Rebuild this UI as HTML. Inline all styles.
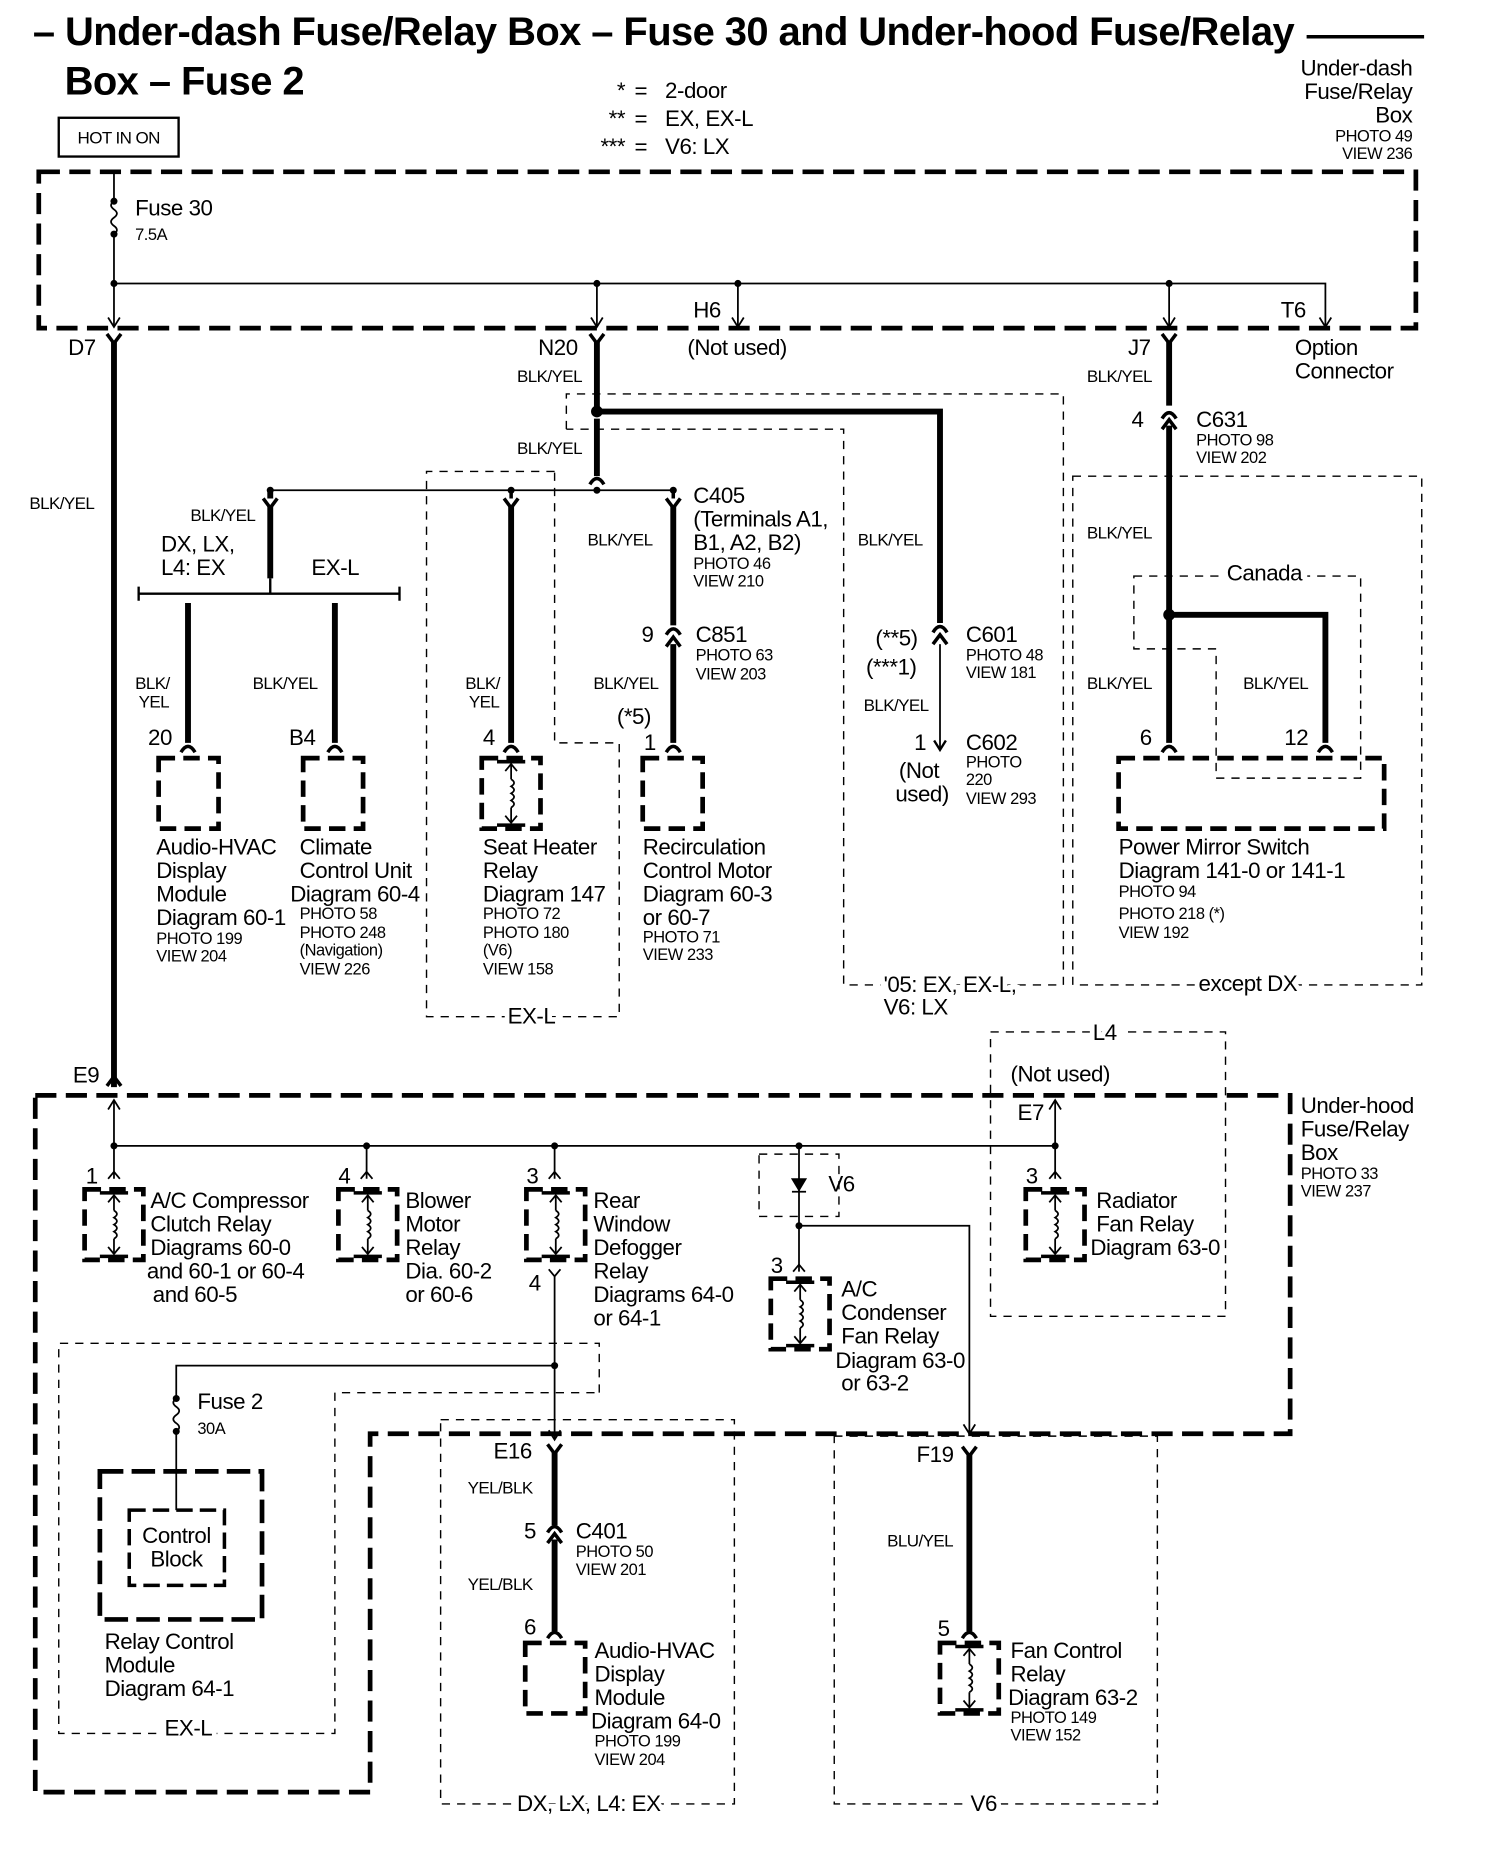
<!DOCTYPE html>
<html><head><meta charset="utf-8"><style>
html,body{margin:0;padding:0;background:#fff}
svg{display:block}
text{font-family:"Liberation Sans",sans-serif;fill:#000}
.t{font-size:19px;letter-spacing:-0.4px}
.s{font-size:14px;letter-spacing:-0.4px}
.m{font-size:14.5px;letter-spacing:-0.5px}
.h{font-size:34px;font-weight:bold;letter-spacing:-0.5px}
.r{text-anchor:end}
.bg{stroke:#fff;stroke-width:8px;paint-order:stroke}
</style></head><body>
<svg width="1504" height="1850" viewBox="0 0 1280 1574" xmlns="http://www.w3.org/2000/svg">
<defs>
<g id="relay" fill="none" stroke="#000">
 <rect x="0" y="0" width="50" height="60" stroke-width="4" stroke-dasharray="14,7"/>
 <line x1="13" y1="3" x2="37" y2="3" stroke-width="3"/>
 <line x1="13" y1="57" x2="37" y2="57" stroke-width="3"/>
 <line x1="25" y1="5" x2="25" y2="18" stroke-width="1.5"/>
 <line x1="25" y1="42" x2="25" y2="55" stroke-width="1.5"/>
 <path d="M25 18 q5 3 0 6 q5 3 0 6 q5 3 0 6 q5 3 0 6" stroke-width="1.5"/>
 <path d="M20 11 L25 5 L30 11 M20 49 L25 55 L30 49" stroke-width="1.5"/>
</g>
<g id="box"><rect x="0" y="0" width="51" height="60" fill="none" stroke="#000" stroke-width="4" stroke-dasharray="14,7"/></g>
</defs>

<!-- Title -->
<text class="h" x="28" y="38">– Under-dash Fuse/Relay Box – Fuse 30 and Under-hood Fuse/Relay</text>
<line x1="1112" y1="31" x2="1212" y2="31" stroke="#000" stroke-width="3"/>
<text class="h" x="55" y="80">Box – Fuse 2</text>
<text class="t r" x="532" y="83">*</text><text class="t" x="540" y="83">=</text><text class="t" x="566" y="83">2-door</text>
<text class="t r" x="532" y="107">**</text><text class="t" x="540" y="107">=</text><text class="t" x="566" y="107">EX, EX-L</text>
<text class="t r" x="532" y="131">***</text><text class="t" x="540" y="131">=</text><text class="t" x="566" y="131">V6: LX</text>
<rect x="50" y="100" width="102" height="33" fill="none" stroke="#000" stroke-width="2"/>
<text class="m" x="66" y="122">HOT IN ON</text>
<text class="t r" x="1202" y="64">Under-dash</text>
<text class="t r" x="1202" y="84">Fuse/Relay</text>
<text class="t r" x="1202" y="104">Box</text>
<text class="s r" x="1202" y="120">PHOTO 49</text>
<text class="s r" x="1202" y="135">VIEW 236</text>

<g fill="none" stroke="#000">
<rect x="33" y="146" width="1172" height="133" stroke-width="4" stroke-dasharray="18,8"/>
<path d="M97 146 V171 M97 199 V278" stroke-width="1.5"/>
<path d="M97 171 q-5 3.5 0 7 q5 3.5 0 7 q-5 3.5 0 7 q5 3.5 0 7" stroke-width="1.5"/>
<path d="M97 241 H1128 V278 M508 241 V278 M628 241 V278 M995 241 V278" stroke-width="1.5"/>
<path d="M92 270 L97 278 L102 270 M503 270 L508 278 L513 270 M623 270 L628 278 L633 270 M990 270 L995 278 L1000 270 M1123 270 L1128 278 L1133 270" stroke-width="1.5"/>
<path d="M91 284 L97 292 L103 284 M502 284 L508 292 L514 284 M989 284 L995 292 L1001 284" stroke-width="3"/>
<path d="M97 290 V925" stroke-width="5"/>
<path d="M91 924 L97 916 L103 924" stroke-width="3"/>
<path d="M508 290 V350 M508 356 V405" stroke-width="5"/>
<path d="M502 412 Q508 402 514 412" stroke-width="3"/>
<path d="M508 350 H800 V530" stroke-width="5"/>
<path d="M794 538 Q800 528 806 538 M794 548 L800 540 L806 548" stroke-width="3"/>
<path d="M800 548 V638" stroke-width="1.5"/>
<path d="M795 630 L800 638 L805 630" stroke-width="2"/>
<path d="M482 365 V335 H905 V838 H718 V365 H482" stroke-width="1.2" stroke-dasharray="7,6"/>
<path d="M230 417 H573" stroke-width="1.5"/>
<path d="M224 424 L230 432 L236 424" stroke-width="3"/>
<path d="M230 417 V424 M230 430 V492" stroke-width="5"/>
<path d="M118 505 H340 M118 499 V511 M340 499 V511 M230 492 V505" stroke-width="2"/>
<path d="M160 513 V632 M285 513 V632" stroke-width="5"/>
<path d="M154 640 Q160 630 166 640 M279 640 Q285 630 291 640" stroke-width="3"/>
<path d="M429 424 L435 432 L441 424 M435 417 V424" stroke-width="3"/>
<path d="M435 430 V632" stroke-width="5"/>
<path d="M429 640 Q435 630 441 640" stroke-width="3"/>
<path d="M472 401 H363 V865 H527 V632 H472 V401" stroke-width="1.2" stroke-dasharray="7,6"/>
<path d="M567 424 L573 432 L579 424 M573 417 V424" stroke-width="3"/>
<path d="M573 430 V532 M573 548 V632" stroke-width="5"/>
<path d="M567 540 Q573 530 579 540 M567 550 L573 542 L579 550" stroke-width="3"/>
<path d="M567 640 Q573 630 579 640" stroke-width="3"/>
<path d="M995 290 V345 M995 362 V632" stroke-width="5"/>
<path d="M989 356 Q995 346 1001 356 M989 365 L995 357 L1001 365" stroke-width="3"/>
<path d="M995 523 H1128 V632" stroke-width="5"/>
<path d="M989 640 Q995 630 1001 640 M1122 640 Q1128 630 1134 640" stroke-width="3"/>
<path d="M965 490 H1158 V662 H1035 V552 H965 Z" stroke-width="1.2" stroke-dasharray="7,6"/>
<path d="M913 405 H1210 V838 H913 Z" stroke-width="1.2" stroke-dasharray="7,6"/>
<rect x="952" y="645" width="226" height="60" stroke-width="4" stroke-dasharray="14,7"/>

<path d="M30 932 H1098 V1220 H315 V1525 H30 Z" stroke-width="4" stroke-dasharray="18,8"/>
<path d="M92 944 L97 936 L102 944" stroke-width="1.5"/>
<path d="M97 936 V1003 M97 975 H898 M312 975 V1003 M472 975 V1003 M898 936 V1003 M680 975 V1043 M680 1043 V1082" stroke-width="1.5"/>
<path d="M893 944 L898 936 L903 944 M92 1003 L97 997 L102 1003 M307 1003 L312 997 L317 1003 M467 1003 L472 997 L477 1003 M893 1003 L898 997 L903 1003 M675 1082 L680 1076 L685 1082" stroke-width="1.5"/>
<path d="M674 1003 H686 L680 1013 Z" fill="#000" stroke-width="1"/>
<path d="M674 1014 H686" stroke-width="1.5"/>
<path d="M680 1043 H825 V1220 M820 1212 L825 1220 L830 1212" stroke-width="1.5"/>
<path d="M646 982 H714 V1035 H646 Z" stroke-width="1.2" stroke-dasharray="7,6"/>
<path d="M843 878 H1043 V1120 H843 Z" stroke-width="1.2" stroke-dasharray="7,6"/>
<path d="M467 1080 L472 1086 L477 1080 M472 1086 V1225 M467 1217 L472 1225 L477 1217" stroke-width="1.5"/>
<path d="M472 1162 H150 V1190 M150 1218 V1252" stroke-width="1.5"/>
<path d="M150 1190 q-5 3.5 0 7 q5 3.5 0 7 q-5 3.5 0 7 q5 3.5 0 7" stroke-width="1.5"/>
<path d="M510 1185 V1143 H50 V1475 H285 V1185 H510" stroke-width="1.2" stroke-dasharray="7,6"/>
<rect x="85" y="1252" width="138" height="126" stroke-width="4" stroke-dasharray="20,7"/>
<rect x="110" y="1285" width="81" height="64" stroke-width="3" stroke-dasharray="14,6"/>
<path d="M150 1252 V1285" stroke-width="1.5"/>
<path d="M375 1208 H625 V1535 H375 Z" stroke-width="1.2" stroke-dasharray="7,6"/>
<path d="M466 1229 L472 1237 L478 1229" stroke-width="3"/>
<path d="M472 1235 V1298 M472 1310 V1388" stroke-width="5"/>
<path d="M466 1304 Q472 1294 478 1304 M466 1313 L472 1305 L478 1313 M466 1394 Q472 1384 478 1394" stroke-width="3"/>
<path d="M710 1222 H985 V1535 H710 Z" stroke-width="1.2" stroke-dasharray="7,6"/>
<path d="M819 1231 L825 1239 L831 1231" stroke-width="3"/>
<path d="M825 1237 V1388" stroke-width="5"/>
<path d="M819 1394 Q825 1384 831 1394" stroke-width="3"/>
</g>
<g fill="#000">
<circle cx="97" cy="171" r="3"/><circle cx="97" cy="199" r="3"/>
<circle cx="97" cy="241" r="3"/><circle cx="508" cy="241" r="3"/><circle cx="628" cy="241" r="3"/><circle cx="995" cy="241" r="3"/>
<circle cx="508" cy="350" r="5"/><circle cx="230" cy="417" r="3"/><circle cx="435" cy="417" r="3"/><circle cx="508" cy="417" r="3"/><circle cx="573" cy="417" r="3"/>
<circle cx="995" cy="523" r="5"/>
<circle cx="97" cy="975" r="3"/><circle cx="312" cy="975" r="3"/><circle cx="472" cy="975" r="3"/><circle cx="680" cy="975" r="3"/><circle cx="898" cy="975" r="3"/>
<circle cx="680" cy="1043" r="3"/><circle cx="472" cy="1162" r="3"/>
<circle cx="150" cy="1190" r="3"/><circle cx="150" cy="1218" r="3"/>
</g>
<use href="#box" x="135" y="645"/><use href="#box" x="258" y="645"/>
<use href="#relay" x="410" y="645"/><use href="#box" x="547" y="645"/>
<use href="#relay" x="72" y="1012"/><use href="#relay" x="288" y="1012"/><use href="#relay" x="448" y="1012"/>
<use href="#relay" x="873" y="1012"/><use href="#relay" x="656" y="1088"/>
<use href="#box" x="447" y="1398"/><use href="#relay" x="800" y="1398"/>

<text class="t" x="115" y="183">Fuse 30</text><text class="s" x="115" y="204">7.5A</text>
<text class="t" x="590" y="270">H6</text><text class="t" x="1090" y="270">T6</text>
<text class="t" x="58" y="302">D7</text><text class="t" x="458" y="302">N20</text>
<text class="t" x="585" y="302">(Not used)</text><text class="t" x="960" y="302">J7</text>
<text class="t" x="1102" y="302">Option</text><text class="t" x="1102" y="322">Connector</text>
<text class="m" x="440" y="325">BLK/YEL</text><text class="m" x="440" y="386">BLK/YEL</text>
<text class="m" x="25" y="433">BLK/YEL</text><text class="m" x="925" y="325">BLK/YEL</text>
<text class="m" x="162" y="443">BLK/YEL</text>
<text class="t" x="137" y="469">DX, LX,</text><text class="t" x="137" y="489">L4: EX</text><text class="t" x="265" y="489">EX-L</text>
<text class="m" x="115" y="586">BLK/</text><text class="m" x="118" y="602">YEL</text>
<text class="m" x="215" y="586">BLK/YEL</text>
<text class="t" x="126" y="634">20</text><text class="t" x="246" y="634">B4</text>
<text class="t" x="133" y="727">Audio-HVAC</text><text class="t" x="133" y="747">Display</text><text class="t" x="133" y="767">Module</text><text class="t" x="133" y="787">Diagram 60-1</text>
<text class="s" x="133" y="803">PHOTO 199</text><text class="s" x="133" y="818">VIEW 204</text>
<text class="t" x="255" y="727">Climate</text><text class="t" x="255" y="747">Control Unit</text><text class="t" x="247" y="767">Diagram 60-4</text>
<text class="s" x="255" y="782">PHOTO 58</text><text class="s" x="255" y="798">PHOTO 248</text><text class="s" x="255" y="813">(Navigation)</text><text class="s" x="255" y="829">VIEW 226</text>
<text class="m" x="396" y="586">BLK/</text><text class="m" x="399" y="602">YEL</text><text class="t" x="411" y="634">4</text>
<text class="t" x="411" y="727">Seat Heater</text><text class="t" x="411" y="747">Relay</text><text class="t" x="411" y="767">Diagram 147</text>
<text class="s" x="411" y="782">PHOTO 72</text><text class="s" x="411" y="798">PHOTO 180</text><text class="s" x="411" y="813">(V6)</text><text class="s" x="411" y="829">VIEW 158</text>
<text class="t bg" x="432" y="871">EX-L</text>
<text class="t" x="590" y="428">C405</text><text class="t" x="590" y="448">(Terminals A1,</text><text class="t" x="590" y="468">B1, A2, B2)</text>
<text class="s" x="590" y="484">PHOTO 46</text><text class="s" x="590" y="499">VIEW 210</text>
<text class="m" x="500" y="464">BLK/YEL</text>
<text class="t" x="546" y="546">9</text><text class="t" x="592" y="546">C851</text>
<text class="s" x="592" y="562">PHOTO 63</text><text class="s" x="592" y="578">VIEW 203</text>
<text class="m" x="505" y="586">BLK/YEL</text><text class="t" x="525" y="616">(*5)</text><text class="t" x="548" y="638">1</text>
<text class="t" x="547" y="727">Recirculation</text><text class="t" x="547" y="747">Control Motor</text><text class="t" x="547" y="767">Diagram 60-3</text><text class="t" x="547" y="787">or 60-7</text>
<text class="s" x="547" y="802">PHOTO 71</text><text class="s" x="547" y="817">VIEW 233</text>
<text class="m" x="730" y="464">BLK/YEL</text>
<text class="t" x="745" y="549">(**5)</text><text class="t" x="737" y="574">(***1)</text>
<text class="t" x="822" y="546">C601</text><text class="s" x="822" y="562">PHOTO 48</text><text class="s" x="822" y="577">VIEW 181</text>
<text class="m" x="735" y="605">BLK/YEL</text>
<text class="t" x="778" y="638">1</text><text class="t" x="822" y="638">C602</text>
<text class="s" x="822" y="653">PHOTO</text><text class="s" x="822" y="668">220</text><text class="s" x="822" y="684">VIEW 293</text>
<text class="t" x="765" y="662">(Not</text><text class="t" x="762" y="682">used)</text>
<text class="t bg" x="752" y="844">'05: EX, EX-L,</text><text class="t" x="752" y="863">V6: LX</text>
<text class="t" x="963" y="363">4</text><text class="t" x="1018" y="363">C631</text>
<text class="s" x="1018" y="379">PHOTO 98</text><text class="s" x="1018" y="394">VIEW 202</text>
<text class="m" x="925" y="458">BLK/YEL</text><text class="t bg" x="1044" y="494">Canada</text>
<text class="m" x="925" y="586">BLK/YEL</text><text class="m" x="1058" y="586">BLK/YEL</text>
<text class="t" x="970" y="634">6</text><text class="t" x="1093" y="634">12</text>
<text class="t" x="952" y="727">Power Mirror Switch</text><text class="t" x="952" y="747">Diagram 141-0 or 141-1</text>
<text class="s" x="952" y="763">PHOTO 94</text><text class="s" x="952" y="782">PHOTO 218 (*)</text><text class="s" x="952" y="798">VIEW 192</text>
<text class="t bg" x="1020" y="843">except DX</text>

<text class="t" x="62" y="921">E9</text>
<text class="t bg" x="930" y="885">L4</text><text class="t" x="860" y="920">(Not used)</text><text class="t" x="866" y="953">E7</text>
<text class="t" x="1107" y="947">Under-hood</text><text class="t" x="1107" y="967">Fuse/Relay</text><text class="t" x="1107" y="987">Box</text>
<text class="s" x="1107" y="1003">PHOTO 33</text><text class="s" x="1107" y="1018">VIEW 237</text>
<text class="t" x="73" y="1007">1</text><text class="t" x="288" y="1007">4</text><text class="t" x="448" y="1007">3</text><text class="t" x="873" y="1007">3</text>
<text class="t" x="128" y="1028">A/C Compressor</text><text class="t" x="128" y="1048">Clutch Relay</text><text class="t" x="128" y="1068">Diagrams 60-0</text>
<text class="t" x="125" y="1088">and 60-1 or 60-4</text><text class="t" x="130" y="1108">and 60-5</text>
<text class="t" x="345" y="1028">Blower</text><text class="t" x="345" y="1048">Motor</text><text class="t" x="345" y="1068">Relay</text><text class="t" x="345" y="1088">Dia. 60-2</text><text class="t" x="345" y="1108">or 60-6</text>
<text class="t" x="505" y="1028">Rear</text><text class="t" x="505" y="1048">Window</text><text class="t" x="505" y="1068">Defogger</text><text class="t" x="505" y="1088">Relay</text>
<text class="t" x="505" y="1108">Diagrams 64-0</text><text class="t" x="505" y="1128">or 64-1</text>
<text class="t" x="450" y="1098">4</text>
<text class="t" x="933" y="1028">Radiator</text><text class="t" x="933" y="1048">Fan Relay</text><text class="t" x="928" y="1068">Diagram 63-0</text>
<text class="t" x="705" y="1014">V6</text>
<text class="t" x="656" y="1083">3</text>
<text class="t" x="716" y="1103">A/C</text><text class="t" x="716" y="1123">Condenser</text><text class="t" x="716" y="1143">Fan Relay</text>
<text class="t" x="711" y="1164">Diagram 63-0</text><text class="t" x="716" y="1183">or 63-2</text>
<text class="t" x="168" y="1199">Fuse 2</text><text class="s" x="168" y="1220">30A</text>
<text class="t" x="121" y="1313">Control</text><text class="t" x="128" y="1333">Block</text>
<text class="t" x="89" y="1403">Relay Control</text><text class="t" x="89" y="1423">Module</text><text class="t" x="89" y="1443">Diagram 64-1</text>
<text class="t bg" x="140" y="1477">EX-L</text>
<text class="t" x="420" y="1241">E16</text><text class="m" x="398" y="1271">YEL/BLK</text>
<text class="t" x="446" y="1309">5</text><text class="t" x="490" y="1309">C401</text>
<text class="s" x="490" y="1325">PHOTO 50</text><text class="s" x="490" y="1340">VIEW 201</text>
<text class="m" x="398" y="1353">YEL/BLK</text><text class="t" x="446" y="1391">6</text>
<text class="t" x="506" y="1411">Audio-HVAC</text><text class="t" x="506" y="1431">Display</text><text class="t" x="506" y="1451">Module</text><text class="t" x="503" y="1471">Diagram 64-0</text>
<text class="s" x="506" y="1486">PHOTO 199</text><text class="s" x="506" y="1502">VIEW 204</text>
<text class="t bg" x="440" y="1541">DX, LX, L4: EX</text>
<text class="t" x="780" y="1244">F19</text><text class="m" x="755" y="1316">BLU/YEL</text><text class="t" x="798" y="1392">5</text>
<text class="t" x="860" y="1411">Fan Control</text><text class="t" x="860" y="1431">Relay</text><text class="t" x="858" y="1451">Diagram 63-2</text>
<text class="s" x="860" y="1466">PHOTO 149</text><text class="s" x="860" y="1481">VIEW 152</text>
<text class="t bg" x="826" y="1541">V6</text>
</svg>
</body></html>
